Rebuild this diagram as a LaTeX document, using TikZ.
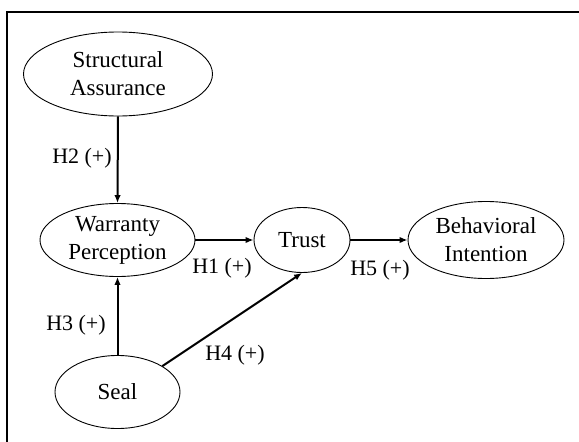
\documentclass[tikz,border=0pt]{standalone}
\usepackage{fontspec}
\setmainfont{Liberation Serif}
\usetikzlibrary{shapes.geometric,arrows.meta}

\begin{document}
\begin{tikzpicture}[x=1pt, y=-1pt,
        construct/.style={ellipse, draw, line width=0.9pt, inner sep=0pt, align=center,
            font=\fontsize{23}{28}\selectfont},
        hyp/.style={font=\fontsize{22}{26}\selectfont, inner sep=0pt},
        path/.style={line width=2pt, -{Latex[length=8pt,width=6.5pt]}}]
        \useasboundingbox (0,0) rectangle (579,442);
        \draw[line width=2pt] (7,442) -- (7,12) -- (579,12);
        \node[construct, minimum width=189, minimum height=84] (SA) at (118,74) {Structural\\Assurance};
        \node[construct, minimum width=155, minimum height=73] (WP) at (117.5,240) {Warranty\\Perception};
        \node[construct, minimum width=96, minimum height=65] (T) at (302,240) {Trust};
        \node[construct, minimum width=156, minimum height=77] (BI) at (486,240) {Behavioral\\Intention};
        \node[construct, minimum width=125, minimum height=73] (S) at (117.5,392) {Seal};
        \draw[path] (SA.south) -- (WP.north);
        \draw[path] (WP.east) -- (T.west);
        \draw[path] (T.east) -- (BI.west);
        \draw[path] (S.north) -- (WP.south);
        \draw[path] (S.30) -- (T.south);
        \node[hyp] (H2) at (82,158) {H2 (+)};
        \node[hyp] (H1) at (222,268) {H1 (+)};
        \node[hyp] (H5) at (380,270) {H5 (+)};
        \node[hyp] (H3) at (76,325) {H3 (+)};
        \node[hyp] (H4) at (235,355) {H4 (+)};
    \end{tikzpicture}
\end{document}
